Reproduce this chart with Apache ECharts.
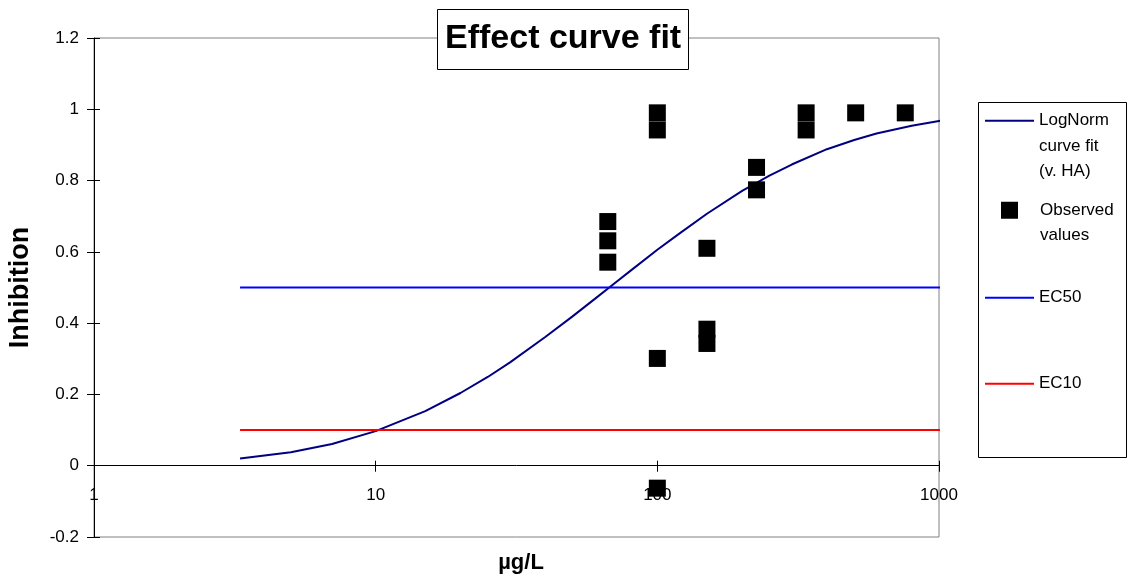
<!DOCTYPE html>
<html>
<head>
<meta charset="utf-8">
<title>Effect curve fit</title>
<script src="https://cdn.jsdelivr.net/npm/echarts@6/dist/echarts.min.js"></script>
<style>
  html, body { margin: 0; padding: 0; background: #fff; }
  #chart { width: 1131px; height: 582px; }
</style>
</head>
<body>
<div id="chart"></div>
<script>
// Fitted log-normal effect curve (concentration in µg/L, inhibition fraction)
const curveConc = [3.3, 5, 7, 10, 15, 20, 25, 30, 40, 50, 60, 70, 80, 100, 120, 150, 200, 250, 300, 400, 500, 600, 800, 1000, 1075];
const curveInhib = [0.020, 0.038, 0.061, 0.097, 0.153, 0.204, 0.249, 0.290, 0.361, 0.419, 0.468, 0.510, 0.546, 0.606, 0.652, 0.707, 0.771, 0.814, 0.845, 0.888, 0.914, 0.932, 0.954, 0.967, 0.971];

// Observed inhibition per test concentration
const obsConc = [66.7, 66.7, 66.7, 100, 100, 100, 100, 150, 150, 150, 225, 225, 337.5, 337.5, 506, 759];
const obsInhib = [0.685, 0.631, 0.571, 0.99, 0.942, 0.301, -0.063, 0.610, 0.383, 0.343, 0.837, 0.774, 0.99, 0.942, 0.99, 0.99];

// Effect-level reference lines
const ecRange = [3.3, 1075];
const ec50Level = 0.5;
const ec10Level = 0.1;

// Axis settings
const yTicks = { min: -0.2, max: 1.2, interval: 0.2 };
const xTicks = { min: 1, max: 1000 };

const FONT = '"Liberation Sans", Arial, sans-serif';

const zip = (xs, ys) => xs.map((x, i) => [x, ys[i]]);
const flat = (xs, v) => xs.map(x => [x, v]);

const chart = echarts.init(document.getElementById('chart'), null, { renderer: 'canvas' });

const legendText = { fontFamily: FONT, fontSize: 17, lineHeight: 25.5, color: '#000' };
const legendBase = {
  orient: 'vertical',
  padding: 0,
  selectedMode: false,
  itemWidth: 49,
  itemHeight: 2,
  textStyle: legendText
};

chart.setOption({
  animation: false,
  backgroundColor: '#fff',
  title: {
    text: 'Effect curve fit',
    left: 437,
    top: 9,
    padding: [13, 8, 14, 8],
    backgroundColor: '#fff',
    borderColor: '#000',
    borderWidth: 1,
    textStyle: { fontFamily: FONT, fontSize: 34, fontWeight: 'bold', color: '#000' }
  },
  grid: {
    left: 94, right: 192, top: 38, bottom: 45,
    outerBoundsMode: 'none',
    containLabel: false,
    show: true,
    borderColor: '#808080',
    borderWidth: 1,
    backgroundColor: 'transparent'
  },
  xAxis: [
    {
      // concentration labels and the axis title
      type: 'log', logBase: 10,
      min: xTicks.min, max: xTicks.max,
      position: 'bottom',
      name: 'µg/L',
      nameLocation: 'middle',
      nameGap: 15,
      nameMoveOverlap: false,
      nameTextStyle: { fontFamily: FONT, fontSize: 22, fontWeight: 'bold', color: '#000', padding: [0, 0, 0, 9] },
      axisLine: { show: false, onZero: false },
      axisTick: { show: false },
      axisLabel: {
        show: true, margin: -50, color: '#000', fontFamily: FONT, fontSize: 17,
        formatter: v => String(+Number(v).toPrecision(6))
      },
      splitLine: { show: false },
      minorTick: { show: false }
    },
    {
      // zero line with crossing ticks (lower half)
      type: 'log', logBase: 10,
      min: xTicks.min, max: xTicks.max,
      position: 'bottom',
      axisLine: { show: true, onZero: true, onZeroAxisIndex: 0, lineStyle: { color: '#000', width: 1 } },
      axisTick: { show: true, inside: false, length: 6, lineStyle: { color: '#000' } },
      axisLabel: { show: false },
      splitLine: { show: false }
    },
    {
      // zero line crossing ticks (upper half)
      type: 'log', logBase: 10,
      min: xTicks.min, max: xTicks.max,
      position: 'top',
      axisLine: { show: false, onZero: true, onZeroAxisIndex: 1 },
      axisTick: { show: true, inside: false, length: 5, lineStyle: { color: '#000' } },
      axisLabel: { show: false },
      splitLine: { show: false }
    }
  ],
  yAxis: [
    {
      type: 'value',
      min: yTicks.min, max: yTicks.max, interval: yTicks.interval,
      position: 'left',
      name: 'Inhibition',
      nameLocation: 'middle',
      nameGap: 60,
      nameMoveOverlap: false,
      nameTextStyle: { fontFamily: FONT, fontSize: 27, fontWeight: 'bold', color: '#000' },
      axisLine: { show: true, onZero: false, lineStyle: { color: '#000', width: 1 } },
      axisTick: { show: true, inside: false, length: 7, lineStyle: { color: '#000' } },
      axisLabel: { show: true, margin: 15, color: '#000', fontFamily: FONT, fontSize: 17 },
      splitLine: { show: false }
    },
    {
      // inner half of the crossing ticks on the left axis
      type: 'value',
      min: yTicks.min, max: yTicks.max, interval: yTicks.interval,
      position: 'left',
      axisLine: { show: false, onZero: false },
      axisTick: { show: true, inside: true, length: 6, lineStyle: { color: '#000' } },
      axisLabel: { show: false },
      splitLine: { show: false }
    }
  ],
  legend: [
    Object.assign({}, legendBase, {
      data: [{ name: 'LogNorm curve fit (v. HA)', icon: 'rect' }],
      left: 985, top: 57,
      // two leading blank lines keep the first text line level with the swatch
      formatter: () => '\n\nLogNorm\ncurve fit\n(v. HA)'
    }),
    Object.assign({}, legendBase, {
      data: [{ name: 'Observed values', icon: 'rect' }],
      left: 1001, top: 172,
      itemWidth: 17, itemHeight: 17,
      formatter: () => '\nObserved\nvalues',
      textStyle: Object.assign({}, legendText, { padding: [0, 0, 0, 17] })
    }),
    Object.assign({}, legendBase, {
      data: [{ name: 'EC50', icon: 'rect' }],
      left: 985, top: 285
    }),
    Object.assign({}, legendBase, {
      data: [{ name: 'EC10', icon: 'rect' }],
      left: 985, top: 371
    })
  ],
  graphic: [
    {
      type: 'rect',
      shape: { x: 978.5, y: 102.5, width: 148, height: 355 },
      style: { fill: 'none', stroke: '#000', lineWidth: 1 },
      silent: true
    }
  ],
  series: [
    {
      name: 'LogNorm curve fit (v. HA)',
      type: 'line',
      xAxisIndex: 0, yAxisIndex: 0,
      data: zip(curveConc, curveInhib),
      symbol: 'none', showSymbol: false,
      clip: false,
      lineStyle: { color: '#000080', width: 2 },
      itemStyle: { color: '#000080' },
      z: 2
    },
    {
      name: 'Observed values',
      type: 'scatter',
      xAxisIndex: 0, yAxisIndex: 0,
      data: zip(obsConc, obsInhib),
      symbol: 'rect',
      symbolSize: 17,
      itemStyle: { color: '#000', opacity: 1 },
      clip: false,
      z: 4
    },
    {
      name: 'EC50',
      type: 'line',
      xAxisIndex: 0, yAxisIndex: 0,
      data: flat(ecRange, ec50Level),
      symbol: 'none', showSymbol: false,
      clip: false,
      lineStyle: { color: '#0000ff', width: 2 },
      itemStyle: { color: '#0000ff' },
      z: 3
    },
    {
      name: 'EC10',
      type: 'line',
      xAxisIndex: 0, yAxisIndex: 0,
      data: flat(ecRange, ec10Level),
      symbol: 'none', showSymbol: false,
      clip: false,
      lineStyle: { color: '#ff0000', width: 2 },
      itemStyle: { color: '#ff0000' },
      z: 3
    }
  ]
});
</script>
</body>
</html>
